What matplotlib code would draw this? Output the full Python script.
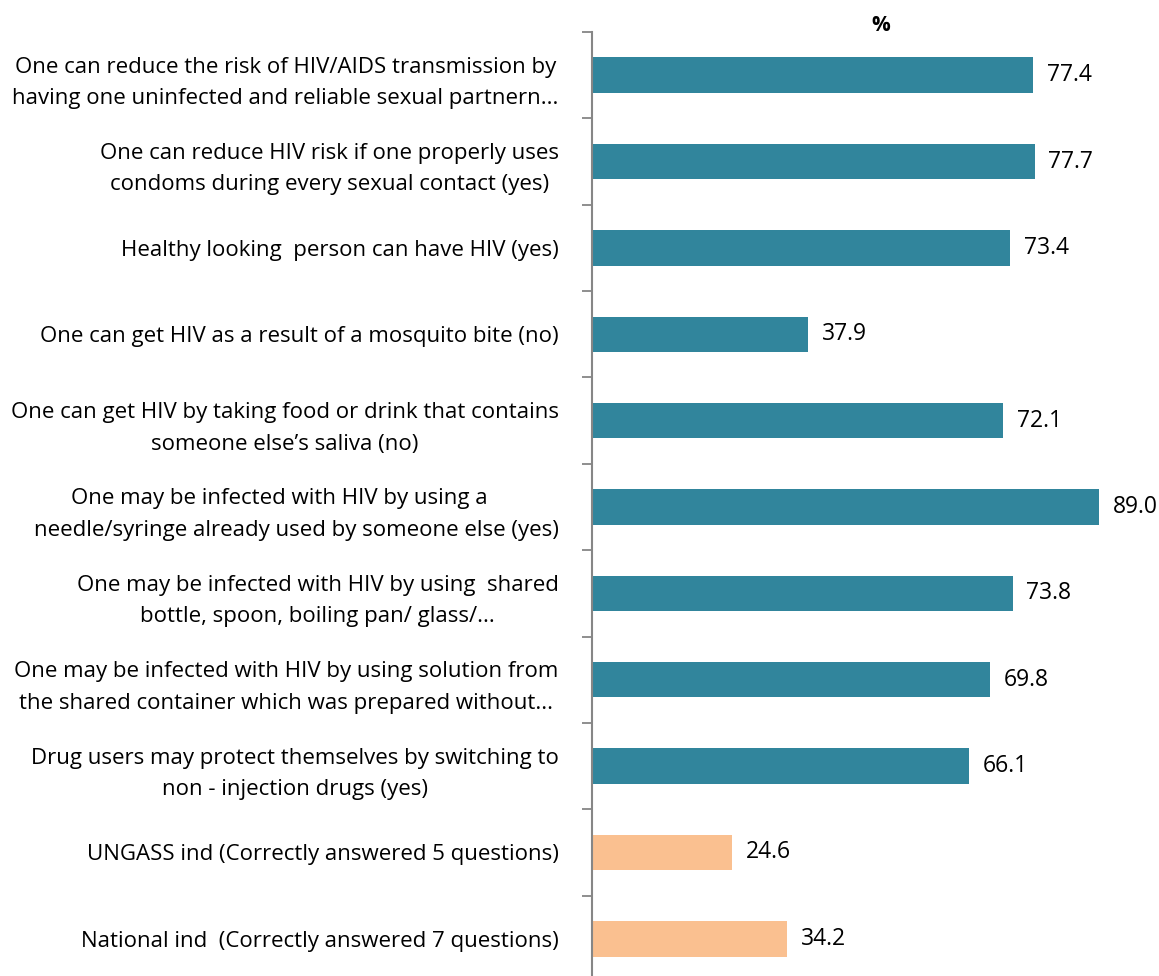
import matplotlib.pyplot as plt
import matplotlib.font_manager as fm

# survey items, top to bottom
labels = [
    "One can reduce the risk of HIV/AIDS transmission by\nhaving one uninfected and reliable sexual partnern...",
    "One can reduce HIV risk if one properly uses\ncondoms during every sexual contact (yes)",
    "Healthy looking  person can have HIV (yes)",
    "One can get HIV as a result of a mosquito bite (no)",
    "One can get HIV by taking food or drink that contains\nsomeone else\u2019s saliva (no)",
    "One may be infected with HIV by using a      \nneedle/syringe already used by someone else (yes)",
    "One may be infected with HIV by using  shared\nbottle, spoon, boiling pan/ glass/...",
    "One may be infected with HIV by using solution from\nthe shared container which was prepared without...",
    "Drug users may protect themselves by switching to\nnon - injection drugs (yes)",
    "UNGASS ind (Correctly answered 5 questions)",
    "National ind  (Correctly answered 7 questions)",
]
values = [77.4, 77.7, 73.4, 37.9, 72.1, 89.0, 73.8, 69.8, 66.1, 24.6, 34.2]
is_index = [False] * 9 + [True] * 2

teal = '#31859C'
peach = '#FAC090'

names = {f.name for f in fm.fontManager.ttflist}
font = 'Liberation Sans Narrow' if 'Liberation Sans Narrow' in names else 'Open Sans'
plt.rcParams['font.family'] = [font, 'DejaVu Sans']

fig = plt.figure(figsize=(11.59, 9.76), dpi=100)
ax = fig.add_axes([592 / 1159, -6 / 976, 567 / 1159, 950 / 976])

n = len(labels)
ypos = list(range(n))
colors = [peach if k else teal for k in is_index]
ax.barh(ypos, values, height=0.41, color=colors)

for y, v in zip(ypos, values):
    ax.text(v + 2.4, y, f"{v:.1f}", va='center', ha='left', fontsize=16.5)

ax.set_ylim(n - 0.5, -0.5)
ax.set_xlim(0, 99.5)

ax.set_yticks(ypos)
ax.set_yticklabels(labels, fontsize=16, multialignment='center', linespacing=1.65)
ax.tick_params(axis='y', length=0, pad=24)
# boundary ticks between categories
ax.set_yticks([i - 0.5 for i in range(n + 1)], minor=True)
ax.tick_params(axis='y', which='minor', length=7, width=1.3, color='#868686')

ax.set_xticks([])
for s in ['top', 'right', 'bottom']:
    ax.spines[s].set_visible(False)
ax.spines['left'].set_color('#868686')
ax.spines['left'].set_linewidth(1.5)

ax.annotate('%', xy=(0.51, 1.0), xycoords='axes fraction', xytext=(0, 5),
            textcoords='offset points', ha='center', va='center',
            fontsize=15, fontweight='bold')

fig.savefig('out.png', dpi=100)
